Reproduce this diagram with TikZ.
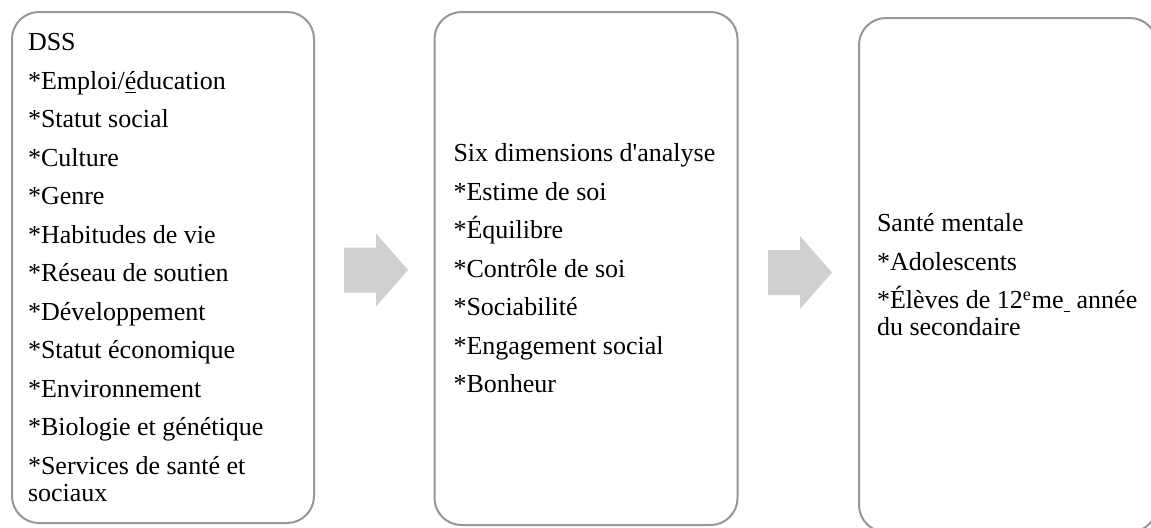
\documentclass[tikz,border=0pt]{standalone}
\usepackage{fontspec}
\setmainfont{Liberation Serif}
\usetikzlibrary{positioning}
\definecolor{BoxGray}{RGB}{150,150,150}
\definecolor{ArrowGray}{RGB}{208,208,208}

\begin{document}
\begin{tikzpicture}[x=0.5pt,y=-0.5pt,
    stage/.style={draw=BoxGray,line width=1pt,rounded corners=13.5pt,align=flush left,
      font={\fontsize{13}{13.5}\selectfont}}]
      \useasboundingbox (0,0) rectangle (1151,527);
      \clip (0,0) rectangle (1151,527);
      % three stages
      \node[stage,minimum width=151pt,minimum height=255.5pt,text width=135pt,inner xsep=8pt] (dss) at (163,267.5)
        {DSS\\[5.75pt]*Emploi/\underline{é}ducation\\[5.75pt]*Statut social\\[5.75pt]*Culture\\[5.75pt]*Genre\\[5.75pt]*Habitudes de vie\\[5.75pt]*Réseau de soutien\\[5.75pt]*Développement\\[5.75pt]*Statut économique\\[5.75pt]*Environnement\\[5.75pt]*Biologie et génétique\\[5.75pt]*Services de santé et\\sociaux};
      \node[stage,minimum width=151.5pt,minimum height=256.5pt,text width=132.5pt,inner xsep=9.5pt] (dim) at (586,268.5)
        {Six dimensions d\textquotesingle analyse\\[5.75pt]*Estime de soi\\[5.75pt]*Équilibre\\[5.75pt]*Contrôle de soi\\[5.75pt]*Sociabilité\\[5.75pt]*Engagement social\\[5.75pt]*Bonheur};
      \node[stage,minimum width=149pt,minimum height=257pt,text width=131pt,inner xsep=9pt] (sm) at (1008,275)
        {Santé mentale\\[5.75pt]*Adolescents\\[5.75pt]*Élèves de 12\textsuperscript{e}me\underline{\ } année\\du secondaire};
      % block arrows
      \foreach \ax/\ay in {344/270,768/272.5}{
        \fill[ArrowGray] (\ax,\ay-22.5) -- ++(32,0) -- ++(0,-14) -- (\ax+64,\ay)
          -- (\ax+32,\ay+36.5) -- ++(0,-14) -- (\ax,\ay+22.5) -- cycle;}
    \end{tikzpicture}
\end{document}
